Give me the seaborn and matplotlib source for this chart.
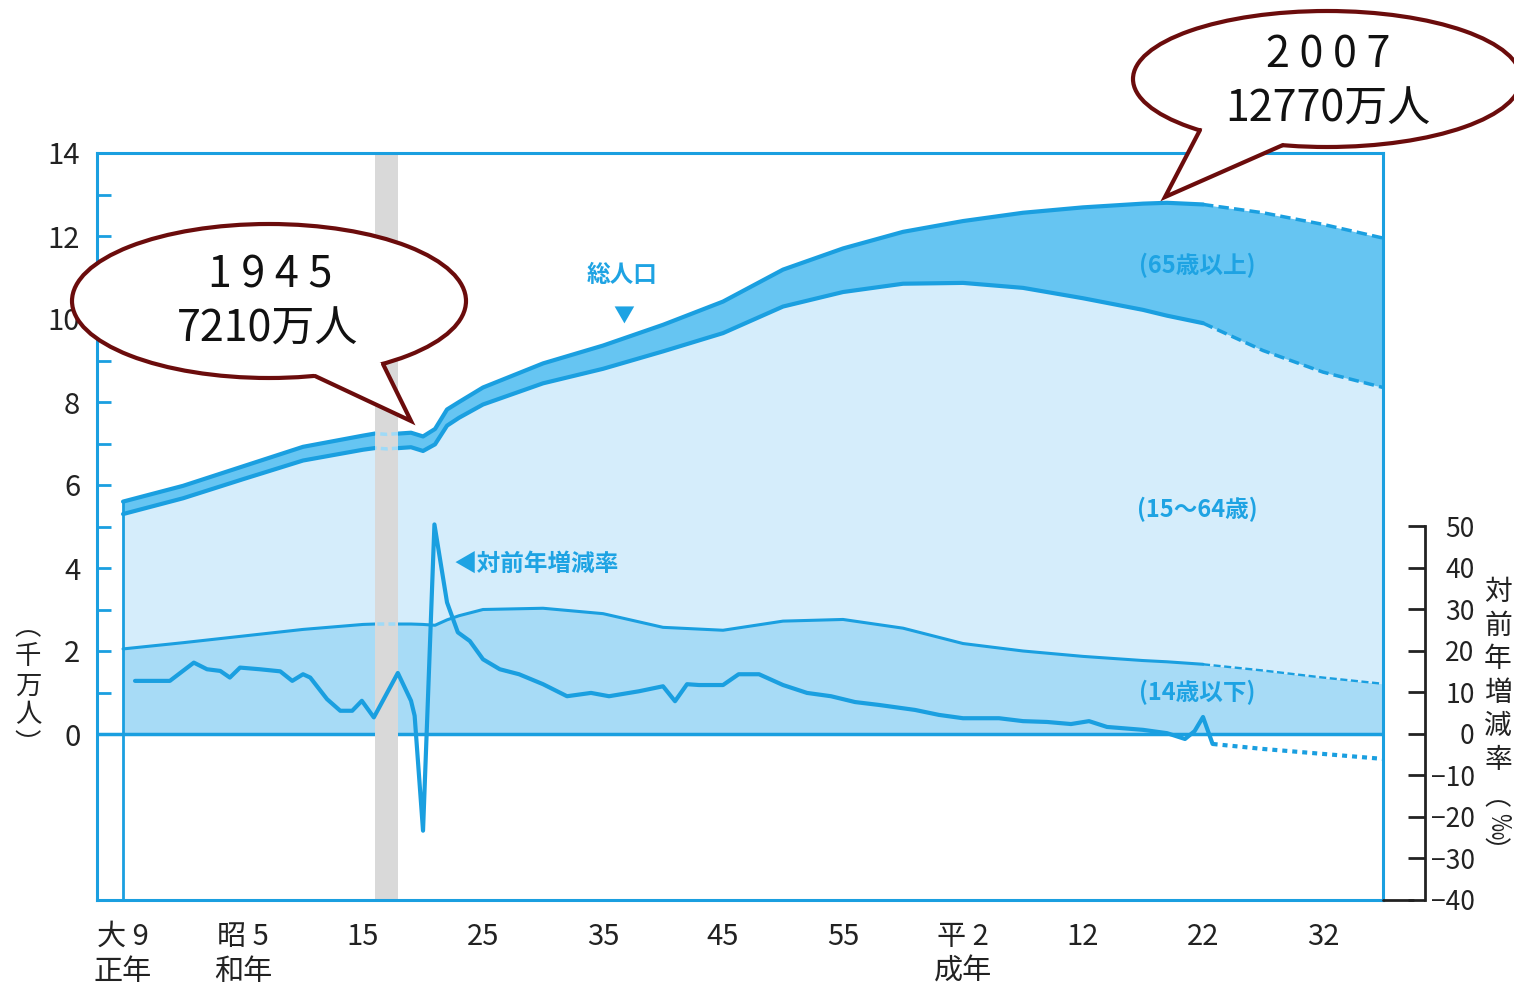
import numpy as np
import pandas as pd
import matplotlib
matplotlib.use("Agg")
import matplotlib.pyplot as plt
import seaborn as sns
from matplotlib.patches import Ellipse, Polygon

# -----------------------------
# data (population in 10 million persons, rate in permil)
# -----------------------------
years = [1920, 1925, 1930, 1935, 1940, 1941, 1942, 1943, 1944, 1945, 1946, 1947,
         1948, 1950, 1955, 1960, 1965, 1970, 1975, 1980, 1985, 1990, 1995, 2000,
         2005, 2007, 2010, 2015, 2020, 2025]
total_pop = [5.60, 5.98, 6.45, 6.92, 7.19, 7.24, 7.22, 7.24, 7.26, 7.17, 7.35, 7.82,
             8.00, 8.35, 8.93, 9.36, 9.86, 10.42, 11.19, 11.70, 12.10, 12.36, 12.56, 12.69,
             12.78, 12.80, 12.76, 12.56, 12.28, 11.95]
pop_upto_64 = [5.30, 5.68, 6.14, 6.59, 6.85, 6.89, 6.87, 6.89, 6.91, 6.82, 6.98, 7.43,
               7.62, 7.94, 8.45, 8.80, 9.22, 9.66, 10.30, 10.65, 10.85, 10.87, 10.75, 10.50,
               10.22, 10.08, 9.90, 9.24, 8.72, 8.35]
pop_upto_14 = [2.05, 2.20, 2.36, 2.52, 2.64, 2.65, 2.65, 2.65, 2.65, 2.64, 2.62, 2.75,
               2.85, 3.00, 3.03, 2.90, 2.57, 2.50, 2.72, 2.76, 2.55, 2.18, 2.00, 1.87,
               1.77, 1.74, 1.68, 1.53, 1.36, 1.21]

rate_years = [1921.0, 1923.9, 1925.9, 1927.0, 1928.1, 1928.9, 1929.75, 1931.4, 1933.1,
              1934.1, 1935.0, 1935.6, 1937.0, 1938.1, 1939.1, 1939.9, 1940.9, 1942.9,
              1944.0, 1944.3, 1945.0, 1945.95, 1947.0, 1947.9, 1948.9, 1950.0, 1951.4,
              1953.0, 1955.0, 1957.0, 1959.0, 1960.5, 1963.0, 1965.0, 1966.0, 1967.0,
              1968.0, 1970.0, 1971.3, 1973.0, 1975.0, 1977.0, 1979.0, 1981.0, 1983.0,
              1986.0, 1988.0, 1990.0, 1993.0, 1995.0, 1997.0, 1999.0, 2000.5, 2002.0,
              2005.0, 2007.0, 2008.5, 2009.3, 2010.0, 2010.8, 2015.0, 2020.0, 2025.0]
rate_permil = [12.8, 12.8, 17.2, 15.6, 15.2, 13.6, 16.0, 15.6, 15.1,
               12.8, 14.4, 13.6, 8.4, 5.6, 5.6, 8.0, 4.0, 14.7,
               8.0, 4.4, -23.3, 50.5, 31.7, 24.5, 22.4, 18.0, 15.6,
               14.4, 12.0, 9.1, 9.9, 9.1, 10.3, 11.5, 7.9, 12.0,
               11.8, 11.8, 14.4, 14.4, 11.8, 9.9, 9.1, 7.7, 7.0,
               5.8, 4.6, 3.8, 3.8, 3.1, 2.9, 2.4, 3.1, 1.7,
               1.0, 0.2, -1.2, 0.7, 4.1, -2.4, -3.6, -4.8, -6.0]

label_years = [1920, 1930, 1940, 1950, 1960, 1970, 1980, 1990, 2000, 2010, 2020]
label_texts = ["大 9\n正年", "昭 5\n和年", "15", "25", "35", "45", "55",
               "平 2\n成年", "12", "22", "32"]
rate_ticks = [-40, -30, -20, -10, 0, 10, 20, 30, 40, 50]

pop = pd.DataFrame({"year": years, "total": total_pop,
                    "upto64": pop_upto_64, "upto14": pop_upto_14})
rate = pd.DataFrame({"year": rate_years, "rate": rate_permil})

# -----------------------------
# style
# -----------------------------
sns.set_style("white")
plt.rcParams["font.family"] = ["Noto Sans CJK JP", "DejaVu Sans"]
CJK = ["Noto Sans CJK JP", "DejaVu Sans"]

BLUE = "#1a9fe0"
C_OLD = "#66c5f2"
C_WORK = "#d5edfb"
C_YOUNG = "#a7dbf6"
TXT_BLUE = "#1ea3e3"
MAROON = "#6b0c0c"
DARK = "#222222"

W, H = 1514, 989
fig = plt.figure(figsize=(W / 100, H / 100), dpi=100)
ax = fig.add_axes([97 / W, 1 - 900 / H, 1286 / W, 747 / H])
ax.set_xlim(1917.83, 2025)
ax.set_ylim(-4, 14)

# -----------------------------
# stacked areas
# -----------------------------
ax.fill_between(pop["year"], 0, pop["upto14"], color=C_YOUNG, lw=0, zorder=1)
ax.fill_between(pop["year"], pop["upto14"], pop["upto64"], color=C_WORK, lw=0, zorder=1)
ax.fill_between(pop["year"], pop["upto64"], pop["total"], color=C_OLD, lw=0, zorder=1)

past = pop[pop["year"] <= 2010]
future = pop[pop["year"] >= 2010]
for col, lw in [("total", 3), ("upto64", 3), ("upto14", 2.2)]:
    sns.lineplot(data=past, x="year", y=col, ax=ax, color=BLUE, lw=lw, zorder=1.5)
    sns.lineplot(data=future, x="year", y=col, ax=ax, color=BLUE, lw=lw - 0.5,
                 linestyle=(0, (3, 1.5)), zorder=1.5)

ax.axhline(0, color=BLUE, lw=2.5, zorder=1.6)
ax.vlines(years[0], -4, total_pop[0], color=BLUE, lw=2, zorder=1.6)

# gap band (war years)
bar = ax.axvspan(1941, 1942.9, color="#d9d9d9", lw=0, zorder=1.8)
for col in ["total", "upto64", "upto14"]:
    sns.lineplot(data=pop, x="year", y=col, ax=ax, color="#9fdaf7", lw=2.5,
                 linestyle=(0, (2, 1.2)), zorder=1.9)
    ax.lines[-1].set_clip_path(bar)

# -----------------------------
# axes styling
# -----------------------------
for s in ax.spines.values():
    s.set_color(BLUE)
    s.set_linewidth(2.2)

major = list(range(1920, 2025, 5))
ax.set_xticks(major)
ax.set_xticklabels([label_texts[label_years.index(y)] if y in label_years else "" for y in major])
ax.set_xticks([y for y in range(1920, 2025) if y % 5], minor=True)
ax.tick_params(axis="x", which="major", direction="in", length=13, width=2, color=BLUE,
               pad=16, labelsize=21, labelcolor=DARK)
ax.tick_params(axis="x", which="minor", direction="in", length=7, width=2, color=BLUE)
ax.set_yticks(range(0, 15))
ax.set_yticklabels([str(v) if v % 2 == 0 else "" for v in range(0, 15)])
ax.tick_params(axis="y", direction="in", length=10, width=2, color=BLUE, pad=12,
               labelsize=21, labelcolor=DARK)
ax.set_xlabel("")
ax.set_ylabel("")

# -----------------------------
# growth rate on right axis
# -----------------------------
ax2 = ax.twinx()
ax2.set_ylim(-40, 140)
r_past = rate[rate["year"] <= 2010.8]
r_future = rate[rate["year"] >= 2010.8]
sns.lineplot(data=r_past, x="year", y="rate", ax=ax2, color=BLUE, lw=3)
sns.lineplot(data=r_future, x="year", y="rate", ax=ax2, color=BLUE, lw=3,
             linestyle=(0, (1.2, 1.2)))
for k in ["top", "left", "bottom"]:
    ax2.spines[k].set_visible(False)
ax2.spines["right"].set_position(("outward", 30))
ax2.spines["right"].set_bounds(-40, 50)
ax2.spines["right"].set_color(DARK)
ax2.spines["right"].set_linewidth(2)
ax2.set_yticks(rate_ticks)
ax2.set_yticklabels([str(v).replace("-", "−") for v in rate_ticks])
ax2.tick_params(axis="y", direction="in", length=12, width=2, color=DARK, pad=36,
                labelsize=19, labelcolor=DARK)
for t in ax2.get_yticklabels():
    t.set_ha("right")
ax2.plot([1, 1 + 30 / 1286], [-40, -40], transform=ax2.get_yaxis_transform(),
         clip_on=False, color=DARK, lw=2)
ax2.set_ylabel("")
ax2.set_xlabel("")

# -----------------------------
# labels inside the plot
# -----------------------------
lab = dict(color=TXT_BLUE, family=CJK, weight="bold", ha="center", va="center", zorder=3)
ax.text(1961.6, 11.07, "総人口", fontsize=17, **lab)
ax.text(1961.75, 10.1, "▼", fontsize=15, **lab)
ax.text(1947.5, 4.09, "◀対前年増減率", fontsize=17,
        **{**lab, "ha": "left"})
ax.text(2009.5, 11.3, "(65歳以上)", fontsize=17, **lab)
ax.text(2009.5, 5.41, "(15～64歳)", fontsize=17, **lab)
ax.text(2009.5, 1.01, "(14歳以下)", fontsize=17, **lab)

# -----------------------------
# overlay: axis titles and callouts (pixel coords)
# -----------------------------
ov = fig.add_axes([0, 0, 1, 1], zorder=10)
ov.set_xlim(0, W)
ov.set_ylim(H, 0)
ov.axis("off")

ov.text(28, 686, "︵\n千\n万\n人\n︶", fontsize=19, linespacing=1.1, family=CJK,
        color=DARK, ha="center", va="center")
ov.text(1498, 676, "対\n前\n年\n増\n減\n率", fontsize=20, linespacing=1.15, family=CJK,
        color=DARK, ha="center", va="center")
ov.text(1498, 798, "︵", fontsize=19, family=CJK, color=DARK, ha="center", va="center")
ov.text(1498, 826, "‰", fontsize=19, family=CJK, color=DARK, ha="center", va="center",
        rotation=-90)
ov.text(1498, 853, "︶", fontsize=19, family=CJK, color=DARK, ha="center", va="center")


def callout(center, size, tail, lines):
    ov.add_patch(Ellipse(center, size[0], size[1], facecolor="white",
                         edgecolor=MAROON, lw=3, zorder=1))
    p1_in, p1, tip, p2, p2_in = tail
    ov.add_patch(Polygon([p1_in, p1, tip, p2, p2_in], closed=True,
                         facecolor="white", edgecolor="none", zorder=2))
    ov.plot([p1[0], tip[0], p2[0]], [p1[1], tip[1], p2[1]], color=MAROON, lw=3,
            solid_joinstyle="miter", solid_capstyle="round", zorder=3)
    for (x, y, s) in lines:
        ov.text(x, y, s, fontsize=31, family=CJK, color="#111111",
                ha="center", va="center", zorder=4)


callout((269, 301), (394, 154),
        [(310, 367), (315, 376), (411, 421), (383, 364), (374, 359)],
        [(270, 276, "1 9 4 5"), (268, 330, "7210万人")])
callout((1327, 79), (388, 136),
        [(1209, 126), (1200, 130), (1165, 197), (1283, 145), (1289, 137)],
        [(1328, 55, "2 0 0 7"), (1328, 110, "12770万人")])

fig.savefig("out.png", dpi=100)
